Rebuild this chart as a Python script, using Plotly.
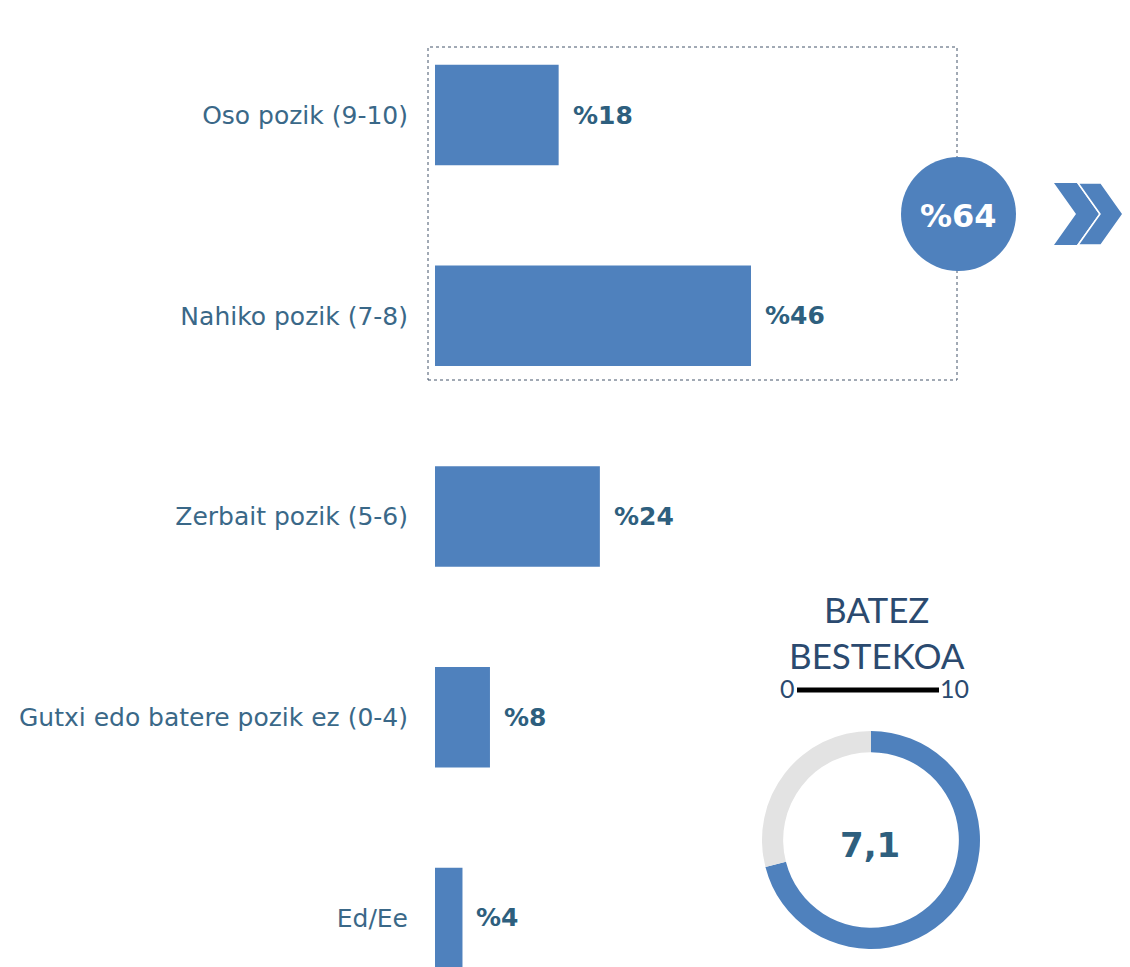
import plotly.graph_objects as go

# the page body adds an 8px margin, so the figure is a bit smaller than the window
OFF = 8
W, H = 1130 - OFF, 967 - OFF

categories = [
    "Oso pozik (9-10)",
    "Nahiko pozik (7-8)",
    "Zerbait pozik (5-6)",
    "Gutxi edo batere pozik ez (0-4)",
    "Ed/Ee",
]
percents = [18, 46, 24, 8, 4]
grouped_share = 64
mean_score = 7.1
scale_max = 10

BAR_COLOR = "#4F81BD"
LABEL_COLOR = "#3A6888"
VALUE_COLOR = "#2E5F7E"
NAVY = "#2B4A6F"


def px(x):
    return (x - OFF) / W


def py(y):
    return 1 - (y - OFF) / H


fig = go.Figure()

fig.add_trace(
    go.Bar(
        x=percents,
        y=categories,
        orientation="h",
        width=0.5,
        marker=dict(color=BAR_COLOR, line=dict(width=0)),
        hoverinfo="skip",
        showlegend=False,
    )
)

# value labels next to each bar
for cat, val in zip(categories, percents):
    fig.add_annotation(
        x=val,
        y=cat,
        xref="x",
        yref="y",
        text=f"%{val}",
        showarrow=False,
        xanchor="left",
        xshift=12,
        font=dict(family="DejaVu Sans", size=25, color=VALUE_COLOR, weight="bold"),
    )

# donut for the mean score
fig.add_trace(
    go.Pie(
        values=[mean_score, scale_max - mean_score],
        hole=0.806,
        sort=False,
        direction="clockwise",
        rotation=0,
        marker=dict(colors=[BAR_COLOR, "#E3E3E3"], line=dict(width=0)),
        textinfo="none",
        hoverinfo="skip",
        showlegend=False,
        domain=dict(x=[px(762), px(980)], y=[py(949), py(731)]),
    )
)

fig.add_annotation(
    x=px(870), y=py(845), xref="paper", yref="paper",
    xanchor="center", yanchor="middle",
    text=f"{mean_score:.1f}".replace(".", ","),
    showarrow=False,
    font=dict(family="DejaVu Sans", size=34, color=VALUE_COLOR, weight="bold"),
)

# dotted box around the top two bars
fig.add_shape(
    type="rect", xref="paper", yref="paper",
    x0=px(428), x1=px(957), y0=py(380), y1=py(47),
    line=dict(color="#44546A", width=1, dash="dot"),
    layer="below",
)

# circle with grouped share
fig.add_shape(
    type="circle", xref="paper", yref="paper",
    x0=px(901), x1=px(1016), y0=py(271), y1=py(157),
    fillcolor=BAR_COLOR, line=dict(width=0),
)
fig.add_annotation(
    x=px(958), y=py(216), xref="paper", yref="paper",
    xanchor="center", yanchor="middle",
    text=f"%{grouped_share}",
    showarrow=False,
    font=dict(family="DejaVu Sans", size=32, color="white", weight="bold"),
)


# double chevron
def chevron(x0):
    pts = [(x0, 183), (x0 + 23, 183), (x0 + 45, 214), (x0 + 23, 245), (x0, 245), (x0 + 22, 214)]
    return "M " + " L ".join(f"{px(a)},{py(b)}" for a, b in pts) + " Z"


fig.add_shape(type="path", xref="paper", yref="paper", path=chevron(1054),
              fillcolor=BAR_COLOR, line=dict(width=0))
fig.add_shape(type="path", xref="paper", yref="paper", path=chevron(1078),
              fillcolor=BAR_COLOR, line=dict(color="white", width=1.5))

# "BATEZ BESTEKOA" heading and 0-10 scale
fig.add_annotation(
    x=px(877), y=py(632), xref="paper", yref="paper",
    xanchor="center", yanchor="middle",
    text="BATEZ<br>BESTEKOA",
    showarrow=False,
    font=dict(family="Lato", size=35, color=NAVY),
)
fig.add_annotation(
    x=px(787), y=py(688), xref="paper", yref="paper",
    xanchor="center", yanchor="middle",
    text="0", showarrow=False,
    font=dict(family="Lato", size=25, color=NAVY),
)
fig.add_annotation(
    x=px(954), y=py(688), xref="paper", yref="paper",
    xanchor="center", yanchor="middle",
    text=str(scale_max), showarrow=False,
    font=dict(family="Lato", size=25, color=NAVY),
)
fig.add_shape(
    type="line", xref="paper", yref="paper",
    x0=px(797), x1=px(939), y0=py(690), y1=py(690),
    line=dict(color="black", width=5),
)

x_unit = (751 - 435) / 46
step = 200.7
fig.update_layout(
    width=W,
    height=H,
    margin=dict(l=0, r=0, t=0, b=0),
    paper_bgcolor="white",
    plot_bgcolor="white",
    xaxis=dict(
        domain=[px(435), 1],
        range=[0, (1130 - 435) / x_unit],
        visible=False,
        fixedrange=True,
    ),
    yaxis=dict(
        type="category",
        categoryorder="array",
        categoryarray=categories,
        range=[4 + (967 - 918) / step, -(115 - OFF) / step],
        showgrid=False,
        zeroline=False,
        showline=False,
        ticks="",
        ticklabelstandoff=26,
        tickfont=dict(family="DejaVu Sans", size=25, color=LABEL_COLOR),
        fixedrange=True,
    ),
)

fig.write_html("out.html")
